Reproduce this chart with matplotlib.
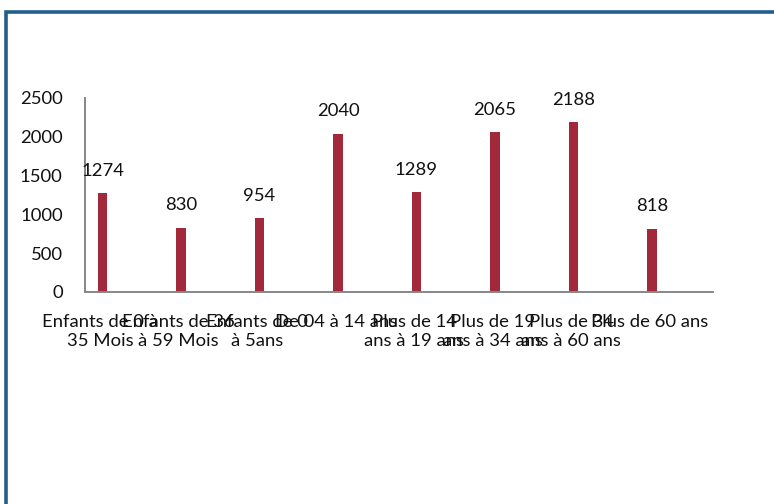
import matplotlib.pyplot as plt
from matplotlib.patches import Rectangle
import numpy as np

# Donnees du graphique
categories = [
    "Enfants de 0 à\n35 Mois",
    "Enfants de 36\nà 59 Mois",
    "Enfants de 0\nà 5ans",
    "De 04 à 14 ans",
    "Plus de 14\nans à 19 ans",
    "Plus de 19\nans à 34 ans",
    "Plus de 34\nans à 60 ans",
    "Plus de 60 ans",
]
valeurs = [1274, 830, 954, 2040, 1289, 2065, 2188, 818]
yticks = [0, 500, 1000, 1500, 2000, 2500]

plt.rcParams['font.family'] = ['Lato', 'DejaVu Sans']

fig = plt.figure(figsize=(7.74, 5.04), dpi=100)

# Cadre bleu autour du graphique
cadre = Rectangle((6 / 774, -0.1), 1.2, 1.1 - 12.5 / 504, transform=fig.transFigure,
                  fill=False, edgecolor='#215F8A', linewidth=2.6, clip_on=False)
fig.patches.append(cadre)

ax = fig.add_axes([85 / 774, 1 - 292 / 504, 628 / 774, 194 / 504])

x = np.arange(len(valeurs))
barres = ax.bar(x, valeurs, width=0.121, color='#A1293B')

# Etiquettes des valeurs au dessus des barres
for xi, v in zip(x, valeurs):
    ax.annotate(str(v), (xi, v), xytext=(0, 16), textcoords='offset points',
                ha='center', va='center', fontsize=13.3, color='#111111')

ax.set_xlim(-0.223, 7.777)
ax.set_ylim(0, 2500)
ax.set_yticks(yticks)
ax.set_yticklabels([str(t) for t in yticks], fontsize=13.3, color='#111111')
ax.set_xticks(x - 0.03)
ax.set_xticklabels(categories, fontsize=13.3, color='#111111', linespacing=1.2)
ax.tick_params(axis='y', length=0, pad=16)
ax.tick_params(axis='x', length=0, pad=16)

for s in ['top', 'right']:
    ax.spines[s].set_visible(False)
for s in ['left', 'bottom']:
    ax.spines[s].set_color('#878787')
    ax.spines[s].set_linewidth(1.4)

fig.savefig('out.png', dpi=100)
